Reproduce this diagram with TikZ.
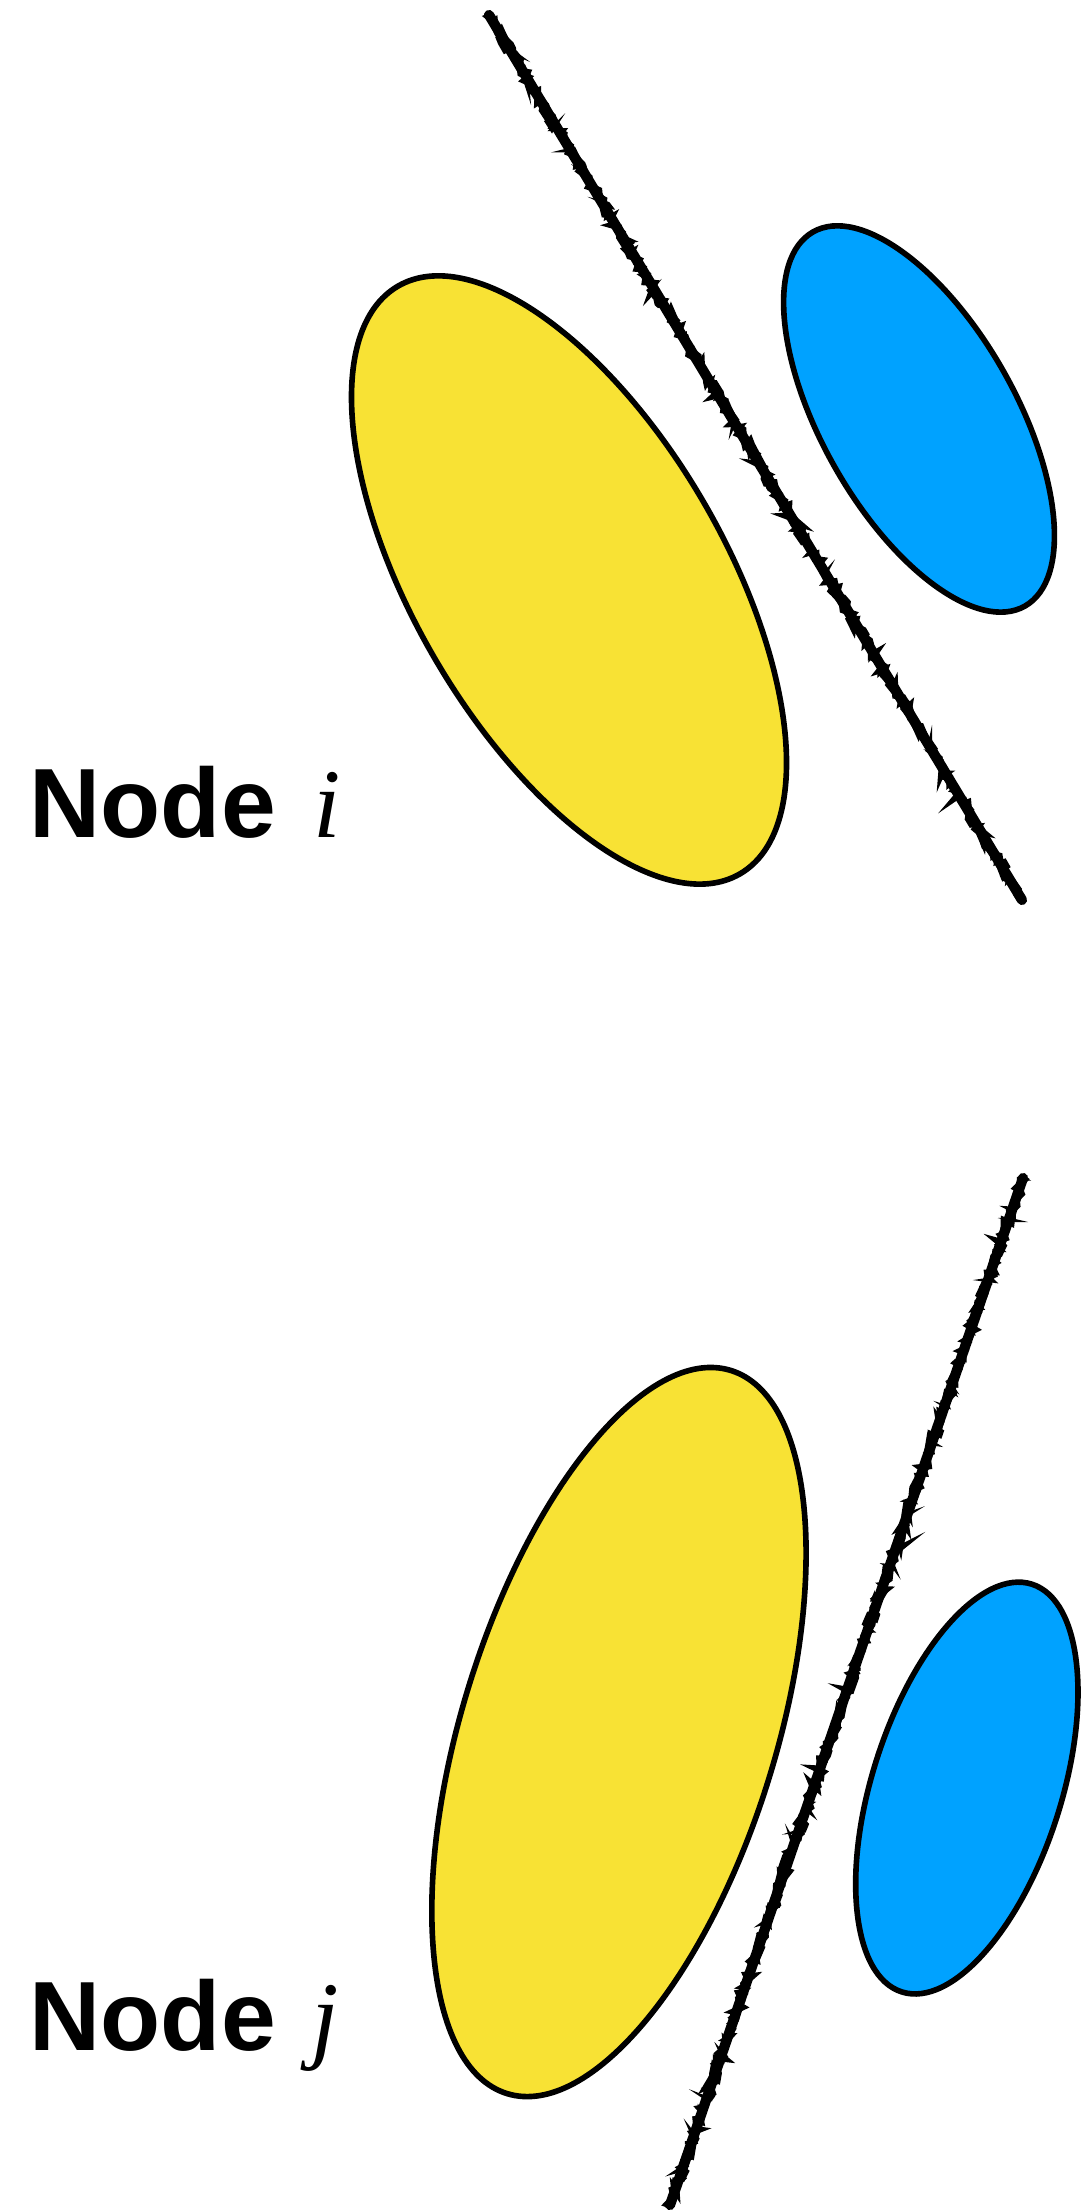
\RequirePackage{fix-cm}
\documentclass[tikz,border=0pt]{standalone}
\usepackage{fontspec}
\setmainfont{Liberation Sans}
\newfontfamily\varfont{Liberation Serif}
\usepackage{tikz}
\usetikzlibrary{decorations.pathmorphing}

\definecolor{cellyellow}{HTML}{F8E234}
\definecolor{cellblue}{HTML}{00A2FF}

\begin{document}
\pgfmathsetseed{11}
\begin{tikzpicture}[x=0.1mm, y=-0.1mm,
    blob/.style={draw=black, line width=1.6pt},
    pencil/.style={draw=black, line width=2.9pt, line cap=round,
        preaction={draw, line width=1.8pt, decorate, decoration={random steps, segment length=1.4pt, amplitude=1.3pt}},
        postaction={draw, line width=0.9pt, decorate, decoration={random steps, segment length=1.1pt, amplitude=1.8pt}}},
    lbl/.style={anchor=base west, inner sep=0pt, font=\fontsize{28}{34}\selectfont}]
    \useasboundingbox (0,0) rectangle (1081,2210);
    \coordinate (yi) at (569,580);
    \coordinate (bi) at (919,419);
    \coordinate (yj) at (619,1732);
    \coordinate (bj) at (967,1788);
    \coordinate (ci1) at (489,15);
    \coordinate (ci2) at (1022,900);
    \coordinate (cj1) at (1023,1178);
    \coordinate (cj2) at (670,2205);
    \draw [blob, fill=cellyellow, rotate around={-59.8:(yi)}] (yi) ellipse [x radius=340, y radius=155.5];
    \draw [blob, fill=cellblue, rotate around={-60.5:(bi)}] (bi) ellipse [x radius=215, y radius=97];
    \draw [pencil] (ci1) -- (ci2);
    \draw [blob, fill=cellyellow, rotate around={72.8:(yj)}] (yj) ellipse [x radius=378.5, y radius=157];
    \draw [blob, fill=cellblue, rotate around={72.3:(bj)}] (bj) ellipse [x radius=214, y radius=94.6];
    \draw [pencil] (cj1) -- (cj2);
    \node [lbl] (nodei) at (29,837) {\textbf{Node}\hspace{0.38em}{\varfont\itshape i}};
    \node [lbl] (nodej) at (29,2050) {\textbf{Node}\hspace{0.36em}{\varfont\itshape j}};
\end{tikzpicture}
\end{document}
